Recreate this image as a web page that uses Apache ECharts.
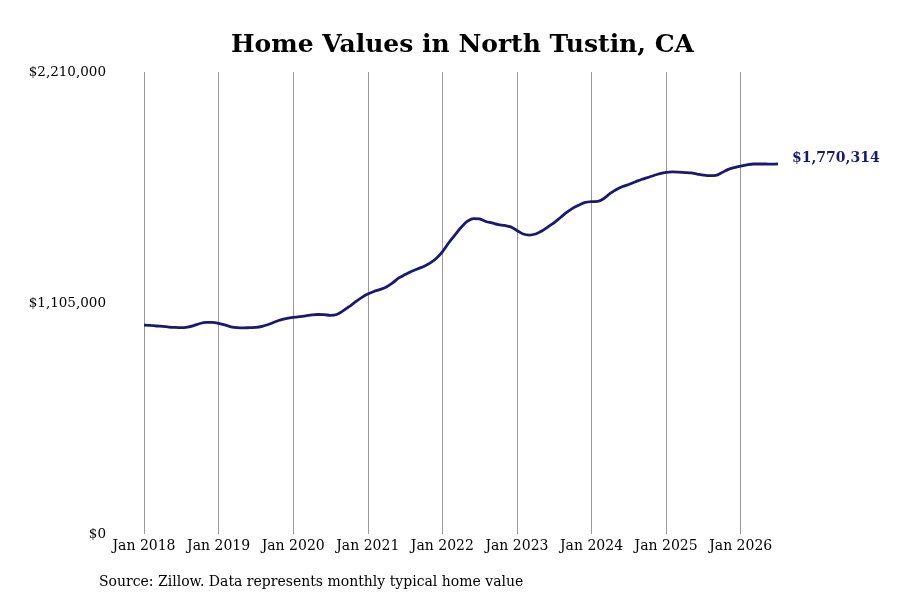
<!DOCTYPE html>
<html>
<head>
<meta charset="utf-8">
<script src="https://cdn.jsdelivr.net/npm/echarts@6/dist/echarts.min.js"></script>
<style>
  html, body { margin: 0; padding: 0; background: #fff; }
  #chart { width: 900px; height: 600px; }
</style>
</head>
<body>
<div id="chart"></div>
<script>
// months Jan 2018 .. Jul 2026
var months = [];
for (var y = 2018; y <= 2026; y++) {
    for (var m = 1; m <= 12; m++) {
        if (y === 2026 && m > 7) break;
        months.push(y + '-' + (m < 10 ? '0' + m : m));
    }
}

var homeValues = [
    // 2018
    999000, 998000, 995000, 993000, 990000, 988000, 987000, 990000, 997000, 1007000, 1012000, 1012000,
    // 2019
    1008000, 1000000, 991000, 987000, 986000, 987000, 988000, 993000, 1002000, 1014000, 1024000, 1031000,
    // 2020
    1036000, 1040000, 1043000, 1048000, 1050000, 1049000, 1046000, 1050000, 1067000, 1088000, 1110000, 1131000,
    // 2021
    1148000, 1160000, 1170000, 1182000, 1201000, 1225000, 1241000, 1256000, 1268000, 1280000, 1296000, 1318000,
    // 2022
    1350000, 1392000, 1430000, 1466000, 1495000, 1509000, 1507000, 1495000, 1488000, 1480000, 1476000, 1469000,
    // 2023
    1452000, 1435000, 1430000, 1435000, 1449000, 1469000, 1490000, 1514000, 1538000, 1559000, 1574000, 1586000,
    // 2024
    1590000, 1591000, 1605000, 1629000, 1648000, 1662000, 1672000, 1684000, 1696000, 1705000, 1715000, 1724000,
    // 2025
    1730000, 1732000, 1731000, 1729000, 1727000, 1722000, 1717000, 1714000, 1715000, 1729000, 1744000, 1753000,
    // 2026
    1760000, 1766000, 1770000, 1770000, 1770000, 1769000, 1770314
];

var yearLabels = ['Jan 2018', 'Jan 2019', 'Jan 2020', 'Jan 2021', 'Jan 2022',
                  'Jan 2023', 'Jan 2024', 'Jan 2025', 'Jan 2026'];
var yTicks = [0, 1105000, 2210000];

var FONT = 'DejaVu Serif';

function money(v) {
    return '$' + Math.round(v).toString().replace(/\B(?=(\d{3})+(?!\d))/g, ',');
}

var chart = echarts.init(document.getElementById('chart'));
var option = {
    backgroundColor: '#fff',
    animation: false,
    title: {
        text: 'Home Values in North Tustin, CA',
        left: 226,
        top: 28,
        textStyle: {
            fontFamily: FONT,
            fontWeight: 'bold',
            fontSize: 25,
            color: '#000'
        }
    },
    graphic: [{
        type: 'text',
        left: 99,
        top: 575,
        style: {
            text: 'Source: Zillow. Data represents monthly typical home value',
            font: '14px "DejaVu Serif"',
            fill: '#000'
        }
    }],
    grid: {
        left: 144,
        right: 122,
        top: 72,
        bottom: 66,
        containLabel: false
    },
    xAxis: {
        type: 'category',
        data: months,
        boundaryGap: false,
        axisLine: { show: false },
        axisTick: { show: false },
        axisLabel: {
            interval: function (i) { return i % 12 === 0; },
            formatter: function (v, i) { return yearLabels[i / 12] || ''; },
            fontFamily: FONT,
            fontSize: 14,
            color: '#000',
            margin: 5
        },
        splitLine: {
            show: true,
            interval: function (i) { return i % 12 === 0; },
            lineStyle: { color: '#999', width: 1 }
        }
    },
    yAxis: {
        type: 'value',
        min: yTicks[0],
        max: yTicks[2],
        interval: yTicks[1],
        axisLine: { show: false },
        axisTick: { show: false },
        splitLine: { show: false },
        axisLabel: {
            formatter: money,
            fontFamily: FONT,
            fontSize: 13.5,
            color: '#000',
            margin: 38
        }
    },
    series: [{
        type: 'line',
        data: homeValues,
        smooth: 0.3,
        symbol: 'none',
        lineStyle: { color: '#191970', width: 2.8 },
        endLabel: {
            show: true,
            formatter: function (p) { return money(p.value); },
            fontFamily: FONT,
            fontWeight: 'bold',
            fontSize: 14,
            color: '#191970',
            distance: 14,
            offset: [0, -6]
        }
    }]
};
chart.setOption(option);
</script>
</body>
</html>
